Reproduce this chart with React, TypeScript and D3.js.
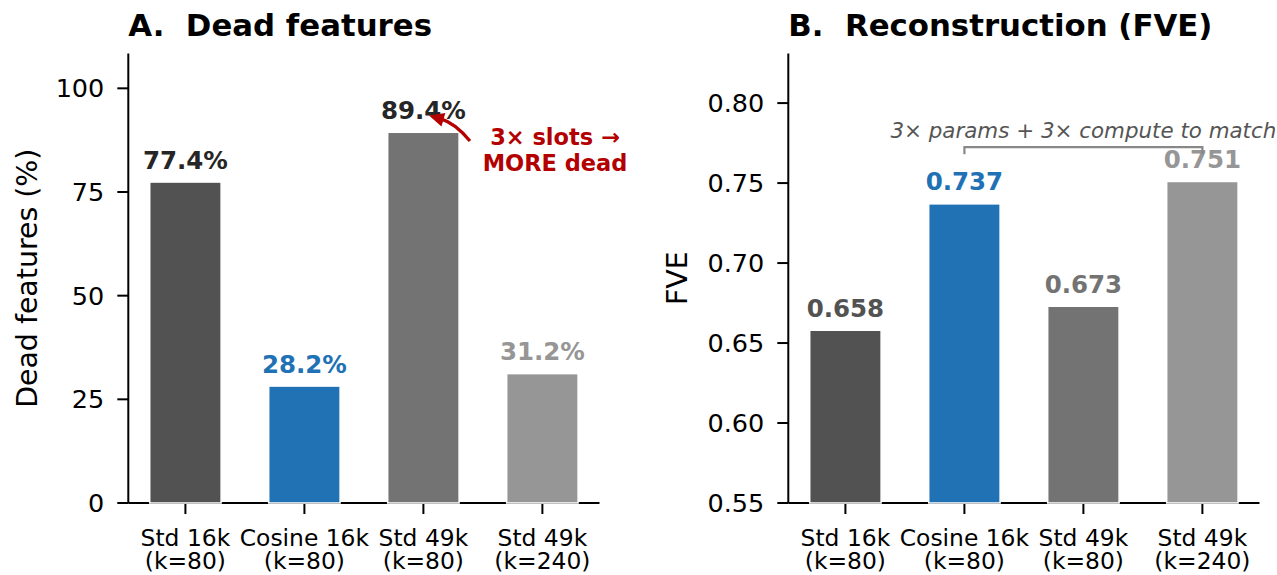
import React from "react";
import * as d3 from "d3";

const categories = ["Std 16k\n(k=80)", "Cosine 16k\n(k=80)", "Std 49k\n(k=80)", "Std 49k\n(k=240)"];
const deadValues = [77.4, 28.2, 89.4, 31.2];
const fveValues = [0.658, 0.737, 0.673, 0.751];
const deadTicks = [0, 25, 50, 75, 100];
const fveTicks = [0.55, 0.6, 0.65, 0.7, 0.75, 0.8];
const barColors = ["#525252", "#2171b5", "#737373", "#969696"];
const deadLabelColors = ["#262626", "#2171b5", "#262626", "#969696"];
const fveLabelColors = ["#525252", "#2171b5", "#737373", "#969696"];

const FONT = "'DejaVu Sans', sans-serif";
const W = 1277;
const H = 575;
const TOP = 53.5;
const BOTTOM = 503;

type PanelProps = {
  offset: number;
  title: string;
  ylabel: string;
  ylabelX: number;
  values: number[];
  labels: string[];
  labelColors: string[];
  domain: [number, number];
  ticks: number[];
  tickFmt: (v: number) => string;
  children?: (x: d3.ScaleLinear<number, number>, y: d3.ScaleLinear<number, number>) => React.ReactNode;
};

function Panel({ offset, title, ylabel, ylabelX, values, labels, labelColors, domain, ticks, tickFmt, children }: PanelProps) {
  const left = 128.3 + offset;
  const right = 599.5 + offset;
  const x = d3.scaleLinear().domain([-0.48, 3.48]).range([left, right]);
  const y = d3.scaleLinear().domain(domain).range([BOTTOM, TOP]);
  const bw = x(0.6) - x(0);
  return (
    <g>
      <text
        x={left}
        y={36}
        fontFamily={FONT}
        fontWeight="bold"
        fontSize={30.8}
        fill="#000"
        style={{ whiteSpace: "pre" }}
        xmlSpace="preserve"
      >
        {title}
      </text>
      <text
        transform={`translate(${ylabelX},${(TOP + BOTTOM) / 2}) rotate(-90)`}
        textAnchor="middle"
        dominantBaseline="central"
        fontFamily={FONT}
        fontSize={28.4}
        fill="#000"
      >
        {ylabel}
      </text>
      {/* y axis */}
      <line x1={left} x2={left} y1={TOP} y2={BOTTOM} stroke="#000" strokeWidth={2} />
      {ticks.map((t) => (
        <g key={t}>
          <line x1={left - 11} x2={left} y1={y(t)} y2={y(t)} stroke="#000" strokeWidth={2} />
          <text
            x={left - 24}
            y={y(t)}
            textAnchor="end"
            dominantBaseline="central"
            fontFamily={FONT}
            fontSize={25.5}
            fill="#000"
          >
            {tickFmt(t)}
          </text>
        </g>
      ))}
      {/* x axis */}
      <line x1={left} x2={right} y1={BOTTOM} y2={BOTTOM} stroke="#000" strokeWidth={2} />
      {categories.map((c, i) => (
        <g key={c}>
          <line x1={x(i)} x2={x(i)} y1={BOTTOM} y2={BOTTOM + 11} stroke="#000" strokeWidth={2} />
          <text textAnchor="middle" fontFamily={FONT} fontSize={23.4} fill="#000">
            {c.split("\n").map((ln, j) => (
              <tspan key={j} x={x(i)} y={546 + j * 23}>
                {ln}
              </tspan>
            ))}
          </text>
        </g>
      ))}
      {values.map((v, i) => (
        <g key={i}>
          <rect
            x={x(i) - bw / 2}
            y={y(v)}
            width={bw}
            height={BOTTOM - y(v)}
            fill={barColors[i]}
            stroke="#fff"
            strokeWidth={1.5}
          />
          <text
            x={x(i)}
            y={y(v) - 13.5}
            textAnchor="middle"
            fontFamily={FONT}
            fontWeight="bold"
            fontSize={24.5}
            fill={labelColors[i]}
          >
            {labels[i]}
          </text>
        </g>
      ))}
      {children && children(x, y)}
    </g>
  );
}

function Arrow() {
  const p0: [number, number] = [470, 141];
  const p2: [number, number] = [429, 115.5];
  const c: [number, number] = [455, 123];
  const dx = p2[0] - c[0];
  const dy = p2[1] - c[1];
  const len = Math.hypot(dx, dy);
  const ux = dx / len;
  const uy = dy / len;
  const hl = 15;
  const hw = 7;
  const bx = p2[0] - ux * hl;
  const by = p2[1] - uy * hl;
  const pts = [
    [p2[0], p2[1]],
    [bx - uy * hw, by + ux * hw],
    [bx + uy * hw, by - ux * hw],
  ];
  const path = d3.path();
  path.moveTo(p0[0], p0[1]);
  path.quadraticCurveTo(c[0], c[1], bx + ux * 2, by + uy * 2);
  return (
    <g>
      <path d={path.toString()} fill="none" stroke="#b30000" strokeWidth={3.2} />
      <polygon points={pts.map((p) => p.join(",")).join(" ")} fill="#b30000" />
    </g>
  );
}

export default function App() {
  return (
    <svg
      width={W}
      height={H}
      viewBox={`0 0 ${W} ${H}`}
      style={{ position: "absolute", left: 0, top: 0, background: "#fff" }}
    >
      <rect x={0} y={0} width={W} height={H} fill="#fff" />
      <Panel
        offset={0}
        title="A.  Dead features"
        ylabel="Dead features (%)"
        ylabelX={27}
        values={deadValues}
        labels={deadValues.map((v) => `${v.toFixed(1)}%`)}
        labelColors={deadLabelColors}
        domain={[0, 108.4]}
        ticks={deadTicks}
        tickFmt={(v) => `${v}`}
      >
        {() => (
          <g>
            <Arrow />
            <text textAnchor="middle" fontFamily={FONT} fontWeight="bold" fontSize={22.5} fill="#b30000">
              <tspan x={555} y={145}>3× slots →</tspan>
              <tspan x={555} y={171}>MORE dead</tspan>
            </text>
          </g>
        )}
      </Panel>
      <Panel
        offset={660}
        title="B.  Reconstruction (FVE)"
        ylabel="FVE"
        ylabelX={677}
        values={fveValues}
        labels={fveValues.map((v) => v.toFixed(3))}
        labelColors={fveLabelColors}
        domain={[0.55, 0.831]}
        ticks={fveTicks}
        tickFmt={(v) => v.toFixed(2)}
      >
        {(x, y) => (
          <g>
            <path
              d={`M${x(1)},${y(0.768)} L${x(1)},${y(0.7725)} L${x(3)},${y(0.7725)} L${x(3)},${y(0.768)}`}
              fill="none"
              stroke="#888"
              strokeWidth={2.2}
            />
            <text
              x={(x(1) + x(3)) / 2}
              y={y(0.778)}
              textAnchor="middle"
              fontFamily={FONT}
              fontStyle="italic"
              fontSize={21.4}
              fill="#555"
            >
              3× params + 3× compute to match
            </text>
          </g>
        )}
      </Panel>
    </svg>
  );
}
